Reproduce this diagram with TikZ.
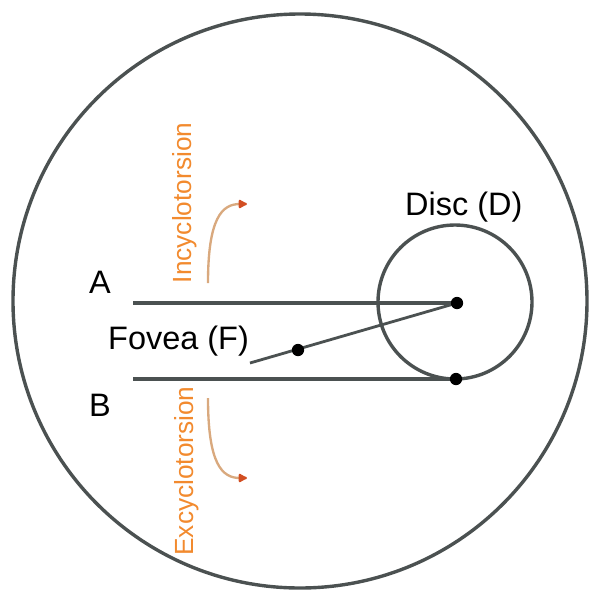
\documentclass[tikz,border=0pt]{standalone}
\usepackage{fontspec}
\setmainfont{Liberation Sans}
\usetikzlibrary{arrows.meta}
\definecolor{eyegrey}{HTML}{4B5151}
\definecolor{torsion}{HTML}{F28A2E}
\definecolor{shaft}{HTML}{D9A97E}
\definecolor{tipred}{HTML}{D24E22}
\tikzstyle{outline}=[draw=eyegrey, line width=2.9pt]
\tikzstyle{fovline}=[draw=eyegrey, line width=2.4pt]
\tikzstyle{spot}=[circle, fill=black, inner sep=0pt, minimum size=10.5pt]
\tikzstyle{lbl}=[font=\fontsize{27.7}{32}\selectfont, inner sep=0pt, anchor=base west]
\tikzstyle{tlbl}=[font=\fontsize{22.4}{26}\selectfont, text=torsion, inner sep=0pt, rotate=90]
\tikzstyle{twist}=[draw=shaft, line width=2pt, -{Latex[length=9pt, width=9pt, round, color=tipred]}]

\begin{document}
\begin{tikzpicture}[x=0.03cm, y=-0.03cm]
        \useasboundingbox (0,0) rectangle (603,602);
        % eye and optic disc
        \coordinate (eye) at (300,301);
        \coordinate (disc) at (455,302);
        \draw[outline] (eye) circle[radius=287];
        \draw[outline] (disc) circle[radius=77];
        % reference points
        \coordinate (d) at (457,303);
        \coordinate (db) at (456,379);
        \coordinate (f) at (298,350);
        \coordinate (a0) at (133,303);
        \coordinate (b0) at (133,379);
        \coordinate (f0) at (250,363);
        \draw[outline] (a0) -- (d);
        \draw[outline] (b0) -- (db);
        \draw[fovline] (f0) -- (d);
        \node[spot] (D) at (d) {};
        \node[spot] (Db) at (db) {};
        \node[spot] (F) at (f) {};
        % labels
        \node[lbl] (labA) at (89,293) {A};
        \node[lbl] (labB) at (89,416) {B};
        \node[lbl] (labF) at (108,349) {Fovea (F)};
        \node[lbl] (labD) at (405,215) {Disc (D)};
        % torsion arrows
        \node[tlbl] (incyc) at (185,203) {Incyclotorsion};
        \node[tlbl] (excyc) at (187,471) {Excyclotorsion};
        \coordinate (in0) at (208,283);
        \coordinate (in1) at (247,204);
        \coordinate (ex0) at (208,398);
        \coordinate (ex1) at (247,478);
        \draw[twist] (in0) .. controls (208,218) and (222,204) .. (in1);
        \draw[twist] (ex0) .. controls (208,464) and (222,478) .. (ex1);
    \end{tikzpicture}
\end{document}
